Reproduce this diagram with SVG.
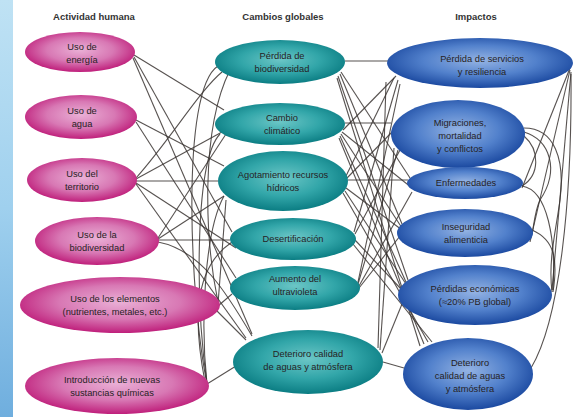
<svg xmlns="http://www.w3.org/2000/svg" width="576" height="417" viewBox="0 0 576 417">
<style>
.hdr{font-family:"Liberation Sans",Arial,sans-serif;font-size:9.5px;font-weight:bold;fill:#333;text-anchor:middle}
.t{font-family:"Liberation Sans",Arial,sans-serif;font-size:9.3px;fill:#262224;text-anchor:middle}
.mag{fill:url(#gMag)}
.teal{fill:url(#gTeal)}
.blue{fill:url(#gBlue)}
#connectors path{fill:none;stroke:#3a3431;stroke-width:1.1;stroke-opacity:0.85}
</style>
<defs>
<linearGradient id="gStrip" x1="0" y1="0" x2="0" y2="1">
<stop offset="0" stop-color="#bfe2f4"/>
<stop offset="0.5" stop-color="#9fd0ee"/>
<stop offset="1" stop-color="#6faede"/>
</linearGradient>
<radialGradient id="gMag" cx="0.5" cy="0.45" r="0.55">
<stop offset="0" stop-color="#eab0d6"/>
<stop offset="0.55" stop-color="#d878b4"/>
<stop offset="1" stop-color="#bf1f7b"/>
</radialGradient>
<radialGradient id="gTeal" cx="0.5" cy="0.45" r="0.55">
<stop offset="0" stop-color="#6cc6c6"/>
<stop offset="0.55" stop-color="#32a6a9"/>
<stop offset="1" stop-color="#0b7d83"/>
</radialGradient>
<radialGradient id="gBlue" cx="0.5" cy="0.45" r="0.55">
<stop offset="0" stop-color="#94b3e3"/>
<stop offset="0.55" stop-color="#5281cc"/>
<stop offset="1" stop-color="#1b49a0"/>
</radialGradient>
</defs>
<rect width="576" height="417" fill="#ffffff"/>
<rect x="0" y="0" width="13" height="417" fill="url(#gStrip)"/>

<g id="headers">
<text class="hdr" x="94" y="20">Actividad humana</text>
<text class="hdr" x="283" y="20">Cambios globales</text>
<text class="hdr" x="476" y="20">Impactos</text>
</g>

<g id="connectors">
<path d="M134,55 L224,110"/>
<path d="M134,57 L232,232"/>
<path d="M133,58 L252,334"/>
<path d="M136,120 L224,166"/>
<path d="M136,122 L236,278"/>
<path d="M136,181 L218,181"/>
<path d="M136,178 C170,140 200,90 222,72"/>
<path d="M136,179 L222,132"/>
<path d="M136,183 L236,248"/>
<path d="M136,184 L246,338"/>
<path d="M158,240 L230,240"/>
<path d="M158,238 L226,134"/>
<path d="M158,239 L224,196"/>
<path d="M158,242 C200,250 225,290 252,336"/>
<path d="M218,302 C205,240 200,130 230,70"/>
<path d="M218,304 L226,200"/>
<path d="M218,306 L232,294"/>
<path d="M216,310 L246,340"/>
<path d="M207,384 C190,300 180,90 218,66"/>
<path d="M207,384 C195,300 195,160 220,134"/>
<path d="M207,384 C200,320 205,230 224,196"/>
<path d="M207,384 L236,366"/>
<path d="M205,382 C195,330 190,270 232,242"/>
<path d="M345,61 L388,61"/>
<path d="M345,123 L391,123"/>
<path d="M348,180 L408,180"/>
<path d="M341,72 L410,178"/>
<path d="M340,74 L402,224"/>
<path d="M338,76 L408,280"/>
<path d="M337,78 L420,346"/>
<path d="M343,130 L396,76"/>
<path d="M342,132 L412,188"/>
<path d="M341,134 L402,228"/>
<path d="M340,136 L406,282"/>
<path d="M339,138 L424,344"/>
<path d="M346,176 L394,78"/>
<path d="M347,178 L396,128"/>
<path d="M346,188 L402,230"/>
<path d="M345,191 L406,284"/>
<path d="M343,193 L428,342"/>
<path d="M354,232 L398,80"/>
<path d="M355,234 L400,150"/>
<path d="M355,240 L402,290"/>
<path d="M353,244 L432,342"/>
<path d="M358,282 L400,84"/>
<path d="M358,284 L398,150"/>
<path d="M359,286 L412,192"/>
<path d="M359,288 L400,236"/>
<path d="M378,348 L386,82"/>
<path d="M380,350 L394,148"/>
<path d="M382,353 L402,304"/>
<path d="M383,362 L404,368"/>
<path d="M570,68 L522,188"/>
<path d="M570,70 L530,242"/>
<path d="M571,72 L552,290"/>
<path d="M571,74 C572,200 560,320 531,368"/>
<path d="M524,128 C555,128 565,160 560,200 C556,230 548,260 552,292"/>
<path d="M524,132 C550,140 560,170 540,200 C535,210 534,225 532,234"/>
<path d="M524,136 C540,150 540,175 522,186"/>
<path d="M522,186 C548,190 556,240 553,290"/>
<path d="M532,230 C555,240 558,260 553,292"/>
</g>

<g id="L1"><ellipse class="mag" cx="80" cy="52" rx="55" ry="20"/><text class="t" x="82" y="50">Uso de</text><text class="t" x="82" y="63">energía</text></g>
<g id="L2"><ellipse class="mag" cx="81" cy="117" rx="56" ry="22"/><text class="t" x="82" y="114">Uso de</text><text class="t" x="82" y="127">agua</text></g>
<g id="L3"><ellipse class="mag" cx="82" cy="180" rx="55" ry="22"/><text class="t" x="82" y="177">Uso del</text><text class="t" x="82" y="190">territorio</text></g>
<g id="L4"><ellipse class="mag" cx="97" cy="241" rx="62" ry="24"/><text class="t" x="97" y="238">Uso de la</text><text class="t" x="97" y="251">biodiversidad</text></g>
<g id="L5"><ellipse class="mag" cx="120" cy="305" rx="100" ry="28"/><text class="t" x="115" y="302">Uso de los elementos</text><text class="t" x="115" y="315">(nutrientes, metales, etc.)</text></g>
<g id="L6"><ellipse class="mag" cx="117" cy="386" rx="92" ry="28"/><text class="t" x="112" y="383">Introducción de nuevas</text><text class="t" x="112" y="396">sustancias químicas</text></g>

<g id="M1"><ellipse class="teal" cx="280" cy="62" rx="65" ry="22"/><text class="t" x="282" y="59">Pérdida de</text><text class="t" x="282" y="72">biodiversidad</text></g>
<g id="M2"><ellipse class="teal" cx="280" cy="124" rx="65" ry="21"/><text class="t" x="282" y="121">Cambio</text><text class="t" x="282" y="134">climático</text></g>
<g id="M3"><ellipse class="teal" cx="283" cy="181" rx="65" ry="30"/><text class="t" x="283" y="178">Agotamiento recursos</text><text class="t" x="283" y="191">hídricos</text></g>
<g id="M4"><ellipse class="teal" cx="293" cy="239" rx="63" ry="21"/><text class="t" x="293" y="242">Desertificación</text></g>
<g id="M5"><ellipse class="teal" cx="295" cy="288" rx="65" ry="22"/><text class="t" x="295" y="282">Aumento del</text><text class="t" x="295" y="295">ultravioleta</text></g>
<g id="M6"><ellipse class="teal" cx="308" cy="362" rx="75" ry="32"/><text class="t" x="308" y="357">Deterioro calidad</text><text class="t" x="308" y="370">de aguas y atmósfera</text></g>

<g id="R1"><ellipse class="blue" cx="480" cy="63" rx="93" ry="25"/><text class="t" x="482" y="62">Pérdida de servicios</text><text class="t" x="482" y="75">y resiliencia</text></g>
<g id="R2"><ellipse class="blue" cx="458" cy="134" rx="67" ry="34"/><text class="t" x="460" y="126">Migraciones,</text><text class="t" x="460" y="139">mortalidad</text><text class="t" x="460" y="152">y conflictos</text></g>
<g id="R3"><ellipse class="blue" cx="465" cy="183" rx="58" ry="16"/><text class="t" x="466" y="186">Enfermedades</text></g>
<g id="R4"><ellipse class="blue" cx="465" cy="233" rx="68" ry="24"/><text class="t" x="466" y="230">Inseguridad</text><text class="t" x="466" y="243">alimenticia</text></g>
<g id="R5"><ellipse class="blue" cx="475" cy="295" rx="77" ry="30"/><text class="t" x="475" y="292">Pérdidas económicas</text><text class="t" x="475" y="305">(≈20% PB global)</text></g>
<g id="R6"><ellipse class="blue" cx="468" cy="374" rx="65" ry="36"/><text class="t" x="470" y="366">Deterioro</text><text class="t" x="470" y="379">calidad de aguas</text><text class="t" x="470" y="392">y atmósfera</text></g>
</svg>
